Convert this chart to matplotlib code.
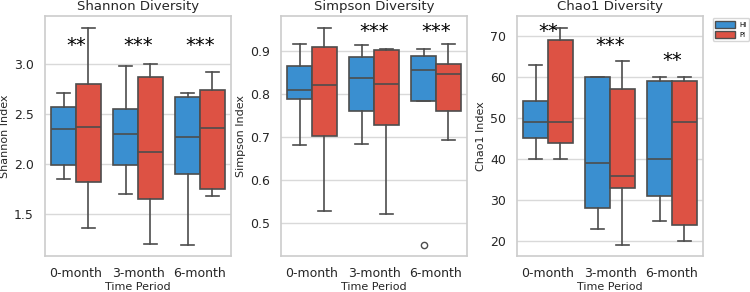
import matplotlib
matplotlib.use('Agg')
import matplotlib.pyplot as plt
from matplotlib.patches import Patch

# time points and groups
periods = ['0-month', '3-month', '6-month']
groups = ['HI', 'PI']
colors = {'HI': '#3a8fd0', 'PI': '#dd5244'}

# box stats (per group, per period)
shannon_hi = dict(whislo=[1.85, 1.70, 1.19], q1=[1.99, 1.99, 1.90], med=[2.35, 2.30, 2.27],
                  q3=[2.57, 2.55, 2.67], whishi=[2.71, 2.98, 2.71])
shannon_pi = dict(whislo=[1.36, 1.20, 1.68], q1=[1.82, 1.65, 1.75], med=[2.37, 2.12, 2.36],
                  q3=[2.80, 2.87, 2.74], whishi=[3.36, 3.00, 2.92])
simpson_hi = dict(whislo=[0.680, 0.683, 0.784], q1=[0.789, 0.761, 0.784], med=[0.810, 0.837, 0.856],
                  q3=[0.865, 0.886, 0.889], whishi=[0.916, 0.913, 0.905])
simpson_pi = dict(whislo=[0.527, 0.520, 0.692], q1=[0.703, 0.727, 0.761], med=[0.821, 0.823, 0.847],
                  q3=[0.909, 0.903, 0.869], whishi=[0.953, 0.905, 0.917])
simpson_hi_fliers = [[], [], [0.448]]
chao1_hi = dict(whislo=[40, 23, 25], q1=[45.2, 28, 31], med=[49.1, 39, 40],
                q3=[54.1, 60, 59], whishi=[63, 60, 60])
chao1_pi = dict(whislo=[40, 19, 20], q1=[44, 33, 24], med=[49, 36, 49],
                q3=[69, 57, 59], whishi=[72, 64, 60])

# significance stars
shannon_stars = ['**', '***', '***']
shannon_star_y = [3.19, 3.19, 3.19]
simpson_stars = ['', '***', '***']
simpson_star_y = [0.944, 0.944, 0.944]
chao1_stars = ['**', '***', '**']
chao1_star_y = [71.0, 67.6, 64.0]

panels = [
    ('Shannon Diversity', 'Shannon Index', shannon_hi, shannon_pi, [[], [], []],
     shannon_stars, shannon_star_y, (1.08, 3.48), [1.5, 2.0, 2.5, 3.0], '%.1f'),
    ('Simpson Diversity', 'Simpson Index', simpson_hi, simpson_pi, simpson_hi_fliers,
     simpson_stars, simpson_star_y, (0.423, 0.981), [0.5, 0.6, 0.7, 0.8, 0.9], '%.1f'),
    ('Chao1 Diversity', 'Chao1 Index', chao1_hi, chao1_pi, [[], [], []],
     chao1_stars, chao1_star_y, (16.4, 74.9), [20, 30, 40, 50, 60, 70], '%d'),
]

line_color = '#4d4d4d'
grid_color = '#d9d9d9'

fig = plt.figure(figsize=(7.5, 2.92), dpi=100)
lefts = [45, 281, 517]

for left, (title, ylabel, hi, pi, hi_fl, stars, star_y, ylim, yticks, fmt) in zip(lefts, panels):
    ax = fig.add_axes([left / 750, 36 / 292, 186 / 750, 240 / 292])
    for g, st, off in [('HI', hi, -0.2), ('PI', pi, 0.2)]:
        stats = []
        for i in range(len(periods)):
            stats.append(dict(whislo=st['whislo'][i], q1=st['q1'][i], med=st['med'][i],
                              q3=st['q3'][i], whishi=st['whishi'][i],
                              fliers=hi_fl[i] if g == 'HI' else []))
        pos = [i + off for i in range(len(periods))]
        ax.bxp(stats, positions=pos, widths=0.4, patch_artist=True, manage_ticks=False,
               boxprops=dict(facecolor=colors[g], edgecolor=line_color, linewidth=1.2),
               medianprops=dict(color=line_color, linewidth=1.2),
               whiskerprops=dict(color=line_color, linewidth=1.2),
               capprops=dict(color=line_color, linewidth=1.2),
               flierprops=dict(marker='o', markerfacecolor='none', markeredgecolor=line_color,
                               markersize=4.5, markeredgewidth=1.0))
    for i, s in enumerate(stars):
        if s:
            ax.text(i, star_y[i], s, ha='center', va='center', fontsize=14, color='black')
    ax.set_xlim(-0.5, 2.5)
    ax.set_ylim(*ylim)
    ax.set_xticks(range(len(periods)))
    ax.set_xticklabels(periods, fontsize=9, color='#262626')
    ax.set_yticks(yticks)
    ax.set_yticklabels([fmt % v for v in yticks], fontsize=9, color='#262626')
    ax.tick_params(length=0, pad=8)
    ax.grid(axis='y', color=grid_color, linewidth=1.0)
    ax.set_axisbelow(True)
    for sp in ax.spines.values():
        sp.set_color('#cccccc')
        sp.set_linewidth(1.2)
    ax.set_title(title, fontsize=9.5, color='#262626', pad=4)
    ax.set_xlabel('Time Period', fontsize=8, color='#262626', labelpad=1)
    ax.set_ylabel(ylabel, fontsize=8, color='#262626', labelpad=3)

handles = [Patch(facecolor=colors[g], edgecolor=line_color, label=g) for g in groups]
fig.axes[-1].legend(handles=handles, loc='upper left', bbox_to_anchor=(1.04, 1.0),
                    fontsize=5, frameon=True, edgecolor='#cccccc', fancybox=True,
                    handlelength=2.8, handleheight=1.1, borderpad=0.4, labelspacing=0.5,
                    handletextpad=0.6, borderaxespad=0.3)

fig.savefig('out.png', dpi=100)
